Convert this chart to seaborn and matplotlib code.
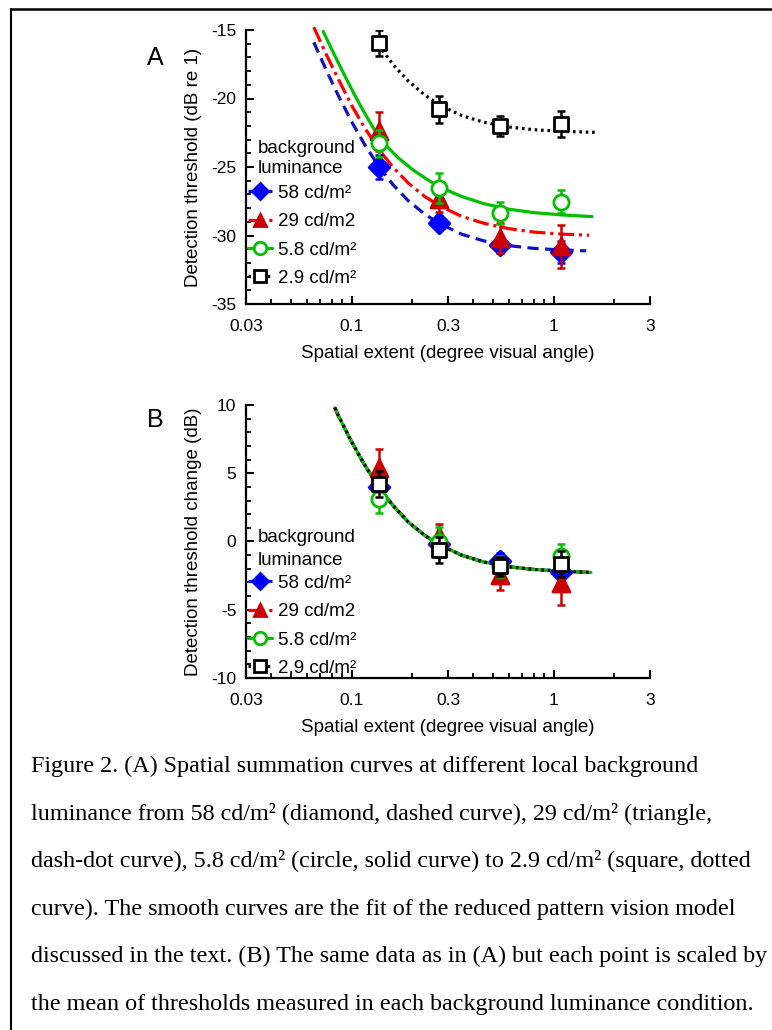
import matplotlib
matplotlib.use("Agg")
import matplotlib.pyplot as plt
import matplotlib.lines as mlines
import seaborn as sns

# spatial extent of the test patches (degree visual angle)
extent = [0.136, 0.272, 0.545, 1.09]

# Panel A: detection thresholds (dB re 1)
thr_58 = [-25.0, -29.06, -30.7, -31.2]
thr_29 = [-22.4, -27.36, -30.2, -30.8]
thr_5_8 = [-23.27, -26.56, -28.33, -27.53]
thr_2_9 = [-15.97, -20.79, -22.0, -21.86]

# error bars (dB), same for both panels
err_58 = [0.9, 0.5, 0.6, 0.8]
err_29 = [1.4, 0.9, 1.1, 1.6]
err_5_8 = [1.0, 1.1, 0.8, 0.85]
err_2_9 = [0.95, 0.97, 0.73, 0.97]

# Panel B: threshold change (dB)
chg_58 = [4.02, -0.17, -1.46, -2.2]
chg_29 = [5.37, 0.37, -2.44, -3.05]
chg_5_8 = [3.1, -0.07, -1.83, -1.05]
chg_2_9 = [4.2, -0.61, -1.83, -1.63]

# model fit curves
fit_x_58 = [0.065, 0.075, 0.085, 0.1, 0.115, 0.136, 0.16, 0.19, 0.23, 0.272, 0.35, 0.45, 0.6, 0.8, 1.1, 1.45]
fit_y_58 = [-15.9, -17.95, -19.64, -21.69, -23.27, -24.94, -26.28, -27.44, -28.44, -29.13,
            -29.9, -30.39, -30.74, -30.94, -31.06, -31.12]
fit_x_29 = [0.065, 0.075, 0.085, 0.1, 0.115, 0.136, 0.16, 0.19, 0.23, 0.272, 0.35, 0.45, 0.6, 0.8, 1.1, 1.5]
fit_y_29 = [-14.8, -16.8, -18.45, -20.5, -22.05, -23.7, -25.0, -26.15, -27.15, -27.83,
            -28.6, -29.1, -29.5, -29.75, -29.9, -29.98]
fit_x_5_8 = [0.0723, 0.08, 0.09, 0.1, 0.11, 0.12, 0.136, 0.15, 0.17, 0.2, 0.235, 0.272,
             0.35, 0.45, 0.6, 0.8, 1.1, 1.55]
fit_y_5_8 = [-15.1, -16.46, -17.99, -19.32, -20.46, -21.44, -22.8, -23.52, -24.33, -25.18,
             -25.88, -26.45, -27.15, -27.67, -28.08, -28.33, -28.5, -28.62]
fit_x_2_9 = [0.136, 0.16, 0.19, 0.23, 0.272, 0.35, 0.45, 0.6, 0.8, 1.1, 1.6]
fit_y_2_9 = [-16.1, -17.51, -18.7, -19.74, -20.47, -21.24, -21.73, -22.08, -22.28, -22.4, -22.47]
fit_x_b = [0.0826, 0.085, 0.1, 0.115, 0.136, 0.16, 0.19, 0.23, 0.272, 0.35, 0.45, 0.6, 0.8, 1.1, 1.53]
fit_y_b = [9.8, 9.36, 7.3, 5.7, 4.0, 2.65, 1.45, 0.45, -0.24, -1.0, -1.5, -1.85, -2.05, -2.18, -2.27]

labels = ["58 cd/m\u00b2", "29 cd/m2", "5.8 cd/m\u00b2", "2.9 cd/m\u00b2"]

sns.set_theme(style="ticks")
plt.rcParams['font.family'] = ['Liberation Sans', 'DejaVu Sans']
plt.rcParams['axes.unicode_minus'] = False
plt.rcParams['text.color'] = 'black'
plt.rcParams['axes.labelcolor'] = 'black'
plt.rcParams['xtick.color'] = 'black'
plt.rcParams['ytick.color'] = 'black'

blue, blue_m = '#1010c8', '#0000ff'
red, red_m = '#ff0000', '#cc0000'
green = '#00c000'
black = '#000000'

styles = [
    dict(color=blue, mcolor=blue_m, face=blue_m, marker='D', s=110, ls=(0, (3.5, 2))),
    dict(color=red, mcolor=red_m, face=red_m, marker='^', s=150, ls=(0, (5, 1.5, 1, 1.5))),
    dict(color=green, mcolor=green, face='white', marker='o', s=120, ls='-'),
    dict(color=black, mcolor=black, face='white', marker='s', s=100, ls=(0, (0.8, 1.2))),
]

fig = plt.figure(figsize=(7.72, 10.30), dpi=100)
axA = fig.add_axes([246 / 772, 1 - 304 / 1030, 404 / 772, 274 / 1030])
axB = fig.add_axes([246 / 772, 1 - 678 / 1030, 404 / 772, 273 / 1030])

fitsA = [(fit_x_58, fit_y_58), (fit_x_29, fit_y_29), (fit_x_5_8, fit_y_5_8), (fit_x_2_9, fit_y_2_9)]
fitsB = [(fit_x_b, fit_y_b)] * 4
dataA = [(thr_58, err_58), (thr_29, err_29), (thr_5_8, err_5_8), (thr_2_9, err_2_9)]
dataB = [(chg_58, err_58), (chg_29, err_29), (chg_5_8, err_5_8), (chg_2_9, err_2_9)]


def draw_panel(ax, fits, data, ylim, yticks, ylabel, leg_top, title_y):
    for st, (fx, fy) in zip(styles, fits):
        sns.lineplot(x=fx, y=fy, ax=ax, color=st['color'], linestyle=st['ls'],
                     linewidth=2.3, clip_on=False, zorder=2)
    for i, (st, (vals, err)) in enumerate(zip(styles, data)):
        ax.errorbar(extent, vals, yerr=err, fmt='none', ecolor=st['mcolor'],
                    elinewidth=1.8, capsize=3, capthick=1.8, zorder=3 + i)
        sns.scatterplot(x=extent, y=vals, ax=ax, marker=st['marker'], s=st['s'],
                        color=st['face'], edgecolor=st['mcolor'], linewidth=2,
                        zorder=3 + i, legend=False)
    ax.set_xscale('log')
    ax.set_xlim(0.03, 3)
    ax.set_ylim(*ylim)
    ax.set_xticks([0.03, 0.1, 0.3, 1, 3])
    ax.set_xticklabels(['0.03', '0.1', '0.3', '1', '3'])
    ax.set_xticks([0.04, 0.05, 0.06, 0.07, 0.08, 0.09, 0.2, 0.4, 0.5, 0.6, 0.7, 0.8, 0.9, 2],
                  minor=True)
    ax.set_yticks(yticks)
    ax.set_yticks(range(ylim[0], ylim[1] + 1), minor=True)
    ax.tick_params(which='major', direction='in', length=6, width=1.5, labelsize=12.5,
                   colors='black')
    ax.tick_params(axis='x', which='major', pad=10.5)
    ax.tick_params(axis='y', which='major', pad=7)
    ax.tick_params(which='minor', direction='in', length=3.5, width=1.3, colors='black')
    for side in ['top', 'right']:
        ax.spines[side].set_visible(False)
    for side in ['left', 'bottom']:
        ax.spines[side].set_linewidth(1.6)
        ax.spines[side].set_color('black')
    ax.set_xlabel('Spatial extent (degree visual angle)', fontsize=13.5)
    ax.set_ylabel(ylabel, fontsize=13.5)
    ax.xaxis.set_label_coords(0.5, -0.15)
    ax.yaxis.set_label_coords(-0.11, 0.5)

    handles = []
    for st, lab in zip(styles, labels):
        handles.append(mlines.Line2D([], [], color=st['color'], linestyle=st['ls'], linewidth=2.3,
                                     marker=st['marker'], markersize=9 if st['marker'] != 'D' else 8,
                                     markerfacecolor=st['face'], markeredgecolor=st['mcolor'],
                                     markeredgewidth=2, label=lab))
    leg = ax.legend(handles=handles, loc='upper left', bbox_to_anchor=(0.005, leg_top),
                    frameon=False, fontsize=13.5, handlelength=1.3, handletextpad=0.32,
                    labelspacing=0.6, borderpad=0, borderaxespad=0)
    for t in leg.get_texts():
        t.set_color('black')
    ax.text(0.03, title_y[0], 'background', transform=ax.transAxes, fontsize=13.5,
            ha='left', va='center')
    ax.text(0.03, title_y[1], 'luminance', transform=ax.transAxes, fontsize=13.5,
            ha='left', va='center')


draw_panel(axA, fitsA, dataA, (-35, -15), [-35, -30, -25, -20, -15],
           'Detection threshold (dB re 1)', 0.435, (0.569, 0.496))
draw_panel(axB, fitsB, dataB, (-10, 10), [-10, -5, 0, 5, 10],
           'Detection threshold change (dB)', 0.378, (0.513, 0.432))

fig.text(155 / 772, 1 - 58 / 1030, 'A', fontsize=18, ha='center', va='center')
fig.text(155 / 772, 1 - 420 / 1030, 'B', fontsize=18, ha='center', va='center')

caption = [
    "Figure 2. (A) Spatial summation curves at different local background",
    "luminance from 58 cd/m\u00b2 (diamond, dashed curve), 29 cd/m\u00b2 (triangle,",
    "dash-dot curve), 5.8 cd/m\u00b2 (circle, solid curve) to 2.9 cd/m\u00b2 (square, dotted",
    "curve). The smooth curves are the fit of the reduced pattern vision model",
    "discussed in the text. (B) The same data as in (A) but each point is scaled by",
    "the mean of thresholds measured in each background luminance condition.",
]
for i, line in enumerate(caption):
    fig.text(31 / 772, 1 - (772 + i * 47.6) / 1030, line, fontsize=17.4, color='black',
             family=['Liberation Serif', 'DejaVu Serif'], ha='left', va='baseline')

# page frame lines (left and top)
fig.add_artist(mlines.Line2D([11 / 772, 11 / 772], [0, 1 - 9 / 1030], color='black',
                             linewidth=1.5, transform=fig.transFigure))
fig.add_artist(mlines.Line2D([11 / 772, 1], [1 - 9 / 1030, 1 - 9 / 1030], color='black',
                             linewidth=1.8, transform=fig.transFigure))

fig.savefig('out.png', dpi=100)
